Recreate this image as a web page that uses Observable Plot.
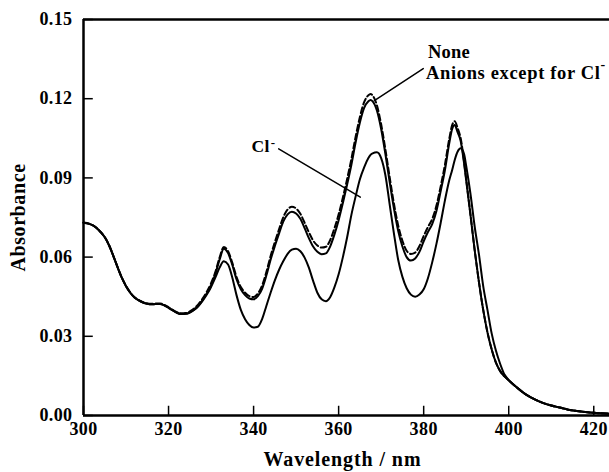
<!DOCTYPE html>
<html>
<head>
<meta charset="utf-8">
<script src="https://cdn.jsdelivr.net/npm/d3@7"></script>
<script src="https://cdn.jsdelivr.net/npm/@observablehq/plot@0.6"></script>
<style>
  html, body { margin: 0; padding: 0; background: white; }
</style>
</head>
<body>
<div id="chart"></div>
<script>
// Wavelength grid (nm)
const wavelengths = [300,302,304,305,306,307,308,309,310,311,312,313,314,315,316,317,318,319,320,321,322,323,324,325,326,327,328,329,330,331,332,333,334,335,336,337,338,339,340,341,342,343,344,345,346,347,348,349,350,351,352,353,354,355,356,357,358,359,360,361,362,363,364,365,366,367,367.5,368,369,370,371,372,373,374,375,376,377,378,379,380,381,382,383,384,385,386,386.7,387.3,388,388.7,389.5,390,391,392,393,394,395,396,397,398,399,400,402,404,406,408,410,412,414,416,418,420,423.7];

// Absorbance: no anion added
const absNone = [.0730,.0722,.0695,.0675,.0645,.0605,.0562,.0522,.0490,.0465,.0447,.0436,.0428,.0423,.0421,.0422,.0422,.0417,.0408,.0398,.0389,.0384,.0385,.0391,.0401,.0416,.0437,.0462,.0493,.0535,.0590,.0632,.0615,.0570,.0515,.0478,.0456,.0443,.0440,.0452,.0480,.0530,.0590,.0642,.0690,.0735,.0762,.0772,.0765,.0745,.0710,.0672,.0640,.0620,.0611,.0614,.0640,.0685,.0740,.0805,.0875,.0950,.1035,.1110,.1165,.1190,.1195,.1190,.1155,.1085,.0990,.0885,.0785,.0700,.0640,.0600,.0587,.0595,.0620,.0660,.0695,.0725,.0775,.0850,.0930,.1030,.1085,.1100,.1072,.1040,.0955,.0890,.0760,.0625,.0505,.0400,.0315,.0250,.0200,.0168,.0148,.0133,.0105,.0080,.0062,.0048,.0038,.0030,.0022,.0017,.0013,.0010,.0007];

// Absorbance: anions except for Cl- (dashed)
const absAnions = [.0731,.0722,.0696,.0676,.0646,.0606,.0563,.0523,.0491,.0466,.0448,.0437,.0429,.0424,.0423,.0424,.0424,.0419,.0410,.0400,.0391,.0387,.0388,.0394,.0405,.0421,.0443,.0469,.0501,.0543,.0598,.0638,.0622,.0578,.0524,.0487,.0465,.0452,.0449,.0462,.0492,.0543,.0604,.0657,.0706,.0752,.0780,.0791,.0784,.0764,.0730,.0694,.0663,.0644,.0636,.0639,.0664,.0708,.0762,.0826,.0896,.0972,.1056,.1131,.1187,.1213,.1218,.1212,.1175,.1103,.1008,.0903,.0803,.0720,.0662,.0624,.0612,.0617,.0642,.0680,.0714,.0744,.0795,.0868,.0950,.1047,.1100,.1115,.1088,.1050,.0962,.0895,.0762,.0626,.0505,.0400,.0315,.0250,.0200,.0168,.0148,.0133,.0105,.0080,.0062,.0048,.0038,.0030,.0022,.0017,.0013,.0010,.0007];

// Absorbance: Cl- added
const absCl = [.0730,.0722,.0695,.0675,.0645,.0605,.0562,.0522,.0490,.0465,.0447,.0436,.0428,.0423,.0421,.0422,.0422,.0417,.0408,.0398,.0389,.0384,.0385,.0390,.0400,.0414,.0434,.0458,.0487,.0522,.0560,.0584,.0572,.0522,.0455,.0400,.0365,.0343,.0333,.0336,.0365,.0415,.0465,.0512,.0552,.0585,.0612,.0628,.0632,.0622,.0598,.0560,.0510,.0465,.0440,.0433,.0448,.0485,.0535,.0600,.0675,.0760,.0830,.0895,.0940,.0975,.0987,.0993,.0997,.0975,.0910,.0800,.0690,.0590,.0525,.0482,.0458,.0450,.0458,.0478,.0520,.0580,.0650,.0730,.0815,.0890,.0930,.0968,.1000,.1012,.0990,.0945,.0840,.0715,.0610,.0490,.0400,.0310,.0245,.0195,.0155,.0135,.0105,.0080,.0062,.0048,.0038,.0030,.0022,.0017,.0013,.0010,.0007];

// Axis ticks
const xTicks = [300, 320, 340, 360, 380, 400, 420];
const yTicks = [0.00, 0.03, 0.06, 0.09, 0.12, 0.15];

// Labels
const labelNone = "None";
const labelAnions = "Anions except for Cl";
const labelCl = "Cl";
const supMinus = "-";
const xTitle = "Wavelength / nm";
const yTitle = "Absorbance";

// Annotation anchors (data coordinates)
const noneAt = {x: 381.0, y: 0.1376};
const anionsAt = {x: 421.6, y: 0.1298};
const anionsSupAt = {x: 421.6, y: 0.1331};
const clAt = {x: 343.8, y: 0.1021};
const clSupAt = {x: 343.8, y: 0.1033};
const leaderTop = [{x: 379.9, y: 0.1314}, {x: 368.4, y: 0.1193}];
const leaderCl = [{x: 345.9, y: 0.1010}, {x: 365.1, y: 0.0827}];

const rows = (vals) => wavelengths.map((w, i) => ({w, a: vals[i]}));

const plot = Plot.plot({
  width: 609,
  height: 472,
  marginLeft: 83,
  marginRight: 0,
  marginTop: 19,
  marginBottom: 57,
  x: {domain: [300, 423.7]},
  y: {domain: [0, 0.15]},
  style: {
    fontFamily: "'Liberation Serif', 'Times New Roman', serif",
    fontWeight: "bold",
    fontSize: "18px",
    letterSpacing: "0.4px",
    color: "black",
    background: "white"
  },
  marks: [
    // frame lines
    Plot.ruleY([0], {stroke: "black", strokeWidth: 2.5}),
    Plot.ruleY([0.15], {stroke: "black", strokeWidth: 2.5}),
    Plot.ruleX([300], {stroke: "black", strokeWidth: 2.5}),
    // inward ticks
    Plot.ruleX(xTicks, {x: d => d, y1: 0, y2: 0.0035, stroke: "black", strokeWidth: 1.5}),
    Plot.ruleY(yTicks, {y: d => d, x1: 300, x2: 302.3, stroke: "black", strokeWidth: 1.5}),
    // axes (labels only)
    Plot.axisX(xTicks, {tickSize: 0, tickPadding: 7, tickFormat: d => String(d), label: null}),
    Plot.axisY(yTicks, {tickSize: 0, tickPadding: 11, tickFormat: d3.format(".2f"), label: null}),
    // curves
    Plot.line(rows(absCl), {x: "w", y: "a", stroke: "black", strokeWidth: 2, curve: "monotone-x"}),
    Plot.line(rows(absNone), {x: "w", y: "a", stroke: "black", strokeWidth: 2, curve: "monotone-x"}),
    Plot.line(rows(absAnions), {x: "w", y: "a", stroke: "black", strokeWidth: 2, strokeDasharray: "6,3", curve: "monotone-x"}),
    // leader lines
    Plot.line(leaderTop, {x: "x", y: "y", stroke: "black", strokeWidth: 1.5}),
    Plot.line(leaderCl, {x: "x", y: "y", stroke: "black", strokeWidth: 1.5}),
    // annotation text
    Plot.text([labelNone], {x: noneAt.x, y: noneAt.y, text: d => d, textAnchor: "start", lineAnchor: "middle", fontSize: 18.5}),
    Plot.text([labelAnions], {x: anionsAt.x, y: anionsAt.y, text: d => d, textAnchor: "end", lineAnchor: "middle", fontSize: 18.5}),
    Plot.text([supMinus], {x: anionsSupAt.x, y: anionsSupAt.y, text: d => d, textAnchor: "start", lineAnchor: "middle", fontSize: 14, dx: 0}),
    Plot.text([labelCl], {x: clAt.x, y: clAt.y, text: d => d, textAnchor: "end", lineAnchor: "middle", fontSize: 17.5}),
    Plot.text([supMinus], {x: clSupAt.x, y: clSupAt.y, text: d => d, textAnchor: "start", lineAnchor: "middle", fontSize: 13, dx: 1}),
    // axis titles
    Plot.text([xTitle], {frameAnchor: "bottom", x: 360.9, text: d => d, textAnchor: "middle", lineAnchor: "middle", dy: 44, fontSize: 20}),
    Plot.text([yTitle], {frameAnchor: "left", text: d => d, textAnchor: "middle", lineAnchor: "middle", rotate: -90, dx: -64.5, fontSize: 20})
  ]
});

// letter spacing tweaks to match the wide lettering of the reference
const spacing = new Map([[labelAnions, "0.65px"], [xTitle, "0.9px"], [yTitle, "0.6px"], [labelNone, "0.2px"]]);
d3.select(plot).selectAll("text").each(function () {
  const s = spacing.get(this.textContent);
  if (s) this.style.letterSpacing = s;
});

document.getElementById("chart").appendChild(plot);
</script>
</body>
</html>
